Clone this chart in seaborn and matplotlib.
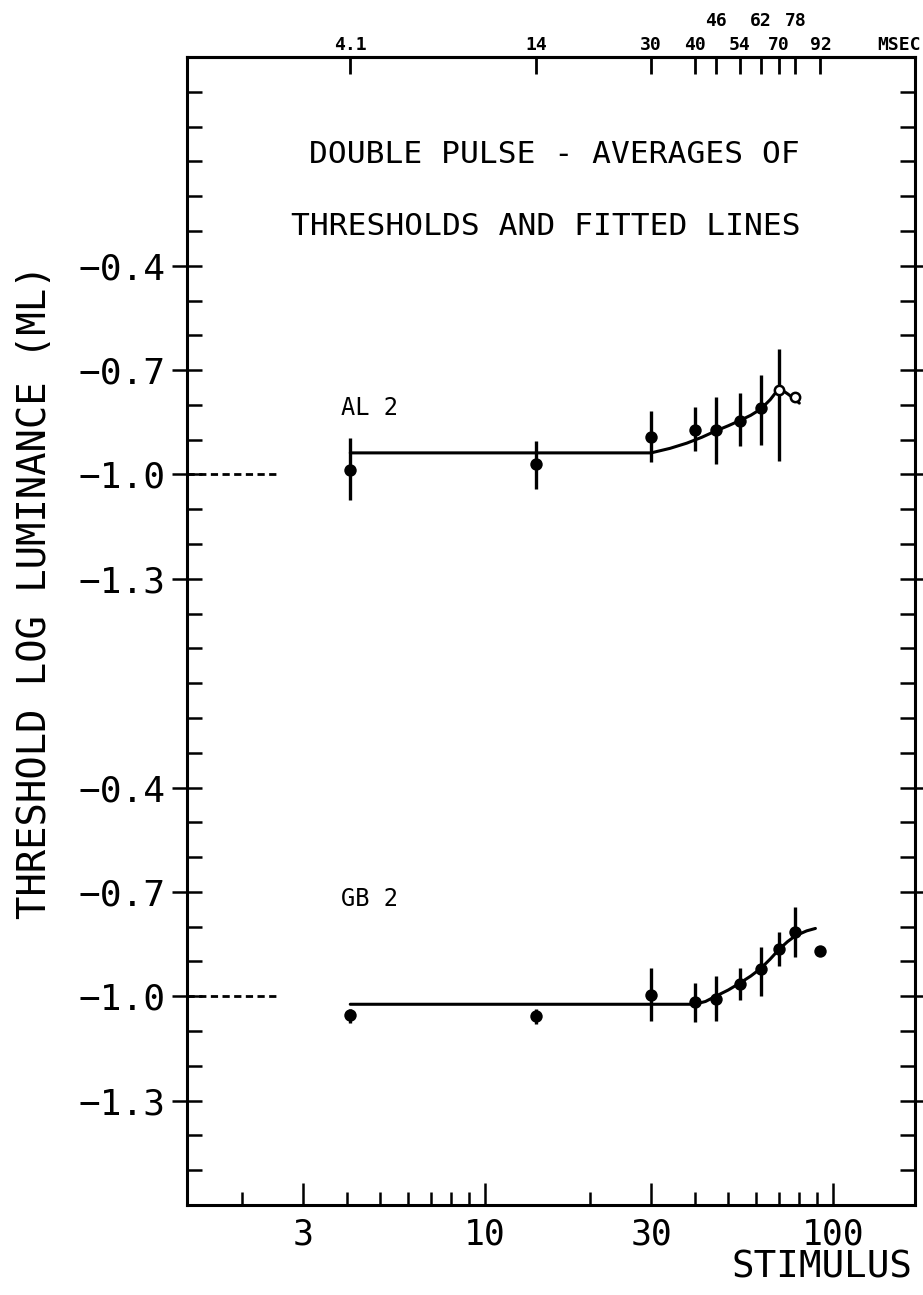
import matplotlib
matplotlib.use("Agg")
import matplotlib.pyplot as plt
import matplotlib.transforms as mtransforms
from matplotlib.ticker import FixedLocator, NullFormatter
import numpy as np
import pandas as pd
import seaborn as sns

# ---- data -------------------------------------------------------------
# stimulus durations (msec), shown along the top edge
msec = [4.1, 14, 30, 40, 46, 54, 62, 70, 78, 92]
msec_low_row = [4.1, 14, 30, 40, 54, 70, 92]
msec_high_row = [46, 62, 78]

# subject AL 2: averaged thresholds and error-bar ends (log mL)
al_x = [4.1, 14, 30, 40, 46, 54, 62, 70, 78]
al_y = [-0.986, -0.971, -0.892, -0.871, -0.873, -0.845, -0.810, -0.757, -0.776]
al_lo = [-1.073, -1.041, -0.965, -0.933, -0.971, -0.919, -0.914, -0.962, -0.776]
al_hi = [-0.895, -0.905, -0.819, -0.807, -0.776, -0.767, -0.715, -0.640, -0.776]
al_open = [False, False, False, False, False, False, False, True, True]
# fitted line for AL 2
al_fit_x = [4.1, 30, 34, 38, 42, 46, 50, 54, 58, 62, 66, 70, 74, 78, 80]
al_fit_y = [-0.938, -0.938, -0.925, -0.910, -0.893, -0.875, -0.860, -0.845,
            -0.830, -0.812, -0.785, -0.752, -0.768, -0.785, -0.795]

# subject GB 2
gb_x = [4.1, 14, 30, 40, 46, 54, 62, 70, 78, 92]
gb_y = [-1.055, -1.057, -0.995, -1.017, -1.007, -0.964, -0.922, -0.865, -0.814, -0.871]
gb_lo = [-1.077, -1.079, -1.071, -1.074, -1.071, -1.010, -0.998, -0.914, -0.886, -0.871]
gb_hi = [-1.036, -1.038, -0.919, -0.962, -0.943, -0.919, -0.857, -0.814, -0.743, -0.871]
# fitted line for GB 2
gb_fit_x = [4.1, 40, 43, 46, 50, 54, 58, 62, 66, 70, 74, 78, 84, 89]
gb_fit_y = [-1.023, -1.023, -1.015, -1.000, -0.982, -0.962, -0.942, -0.920,
            -0.893, -0.865, -0.843, -0.826, -0.812, -0.805]

# the two panels share one frame; the upper one is shifted by this amount
panel_shift = {"AL 2": 1.5, "GB 2": 0.0}
ytick_values = [-0.4, -0.7, -1.0, -1.3]
xtick_major = [3, 10, 30, 100]
xtick_minor = [2, 4, 5, 6, 7, 8, 9, 20, 40, 50, 60, 70, 80, 90]
reference_level = -1.0

# ---- style ------------------------------------------------------------
sns.set_style("ticks")
ink = "black"
plt.rcParams["font.family"] = ["DejaVu Sans Mono", "DejaVu Sans"]
plt.rcParams["axes.linewidth"] = 2.2
plt.rcParams["axes.unicode_minus"] = True
plt.rcParams["text.color"] = ink
plt.rcParams["axes.edgecolor"] = ink
plt.rcParams["xtick.color"] = ink
plt.rcParams["ytick.color"] = ink
plt.rcParams["xtick.labelcolor"] = ink
plt.rcParams["ytick.labelcolor"] = ink

W, H = 923, 1295
fig = plt.figure(figsize=(W / 100, H / 100), dpi=100)
L, R, T, B = 187, 915, 57, 1205
ax = fig.add_axes([L / W, 1 - B / H, (R - L) / W, (B - T) / H])
ax.set_xscale("log")
ax.set_xlim(1.392, 172.0)
ax.set_ylim(-1.6, 1.7)


def draw_panel(name, x, y, lo, hi, fit_x, fit_y, open_flags=None):
    s = panel_shift[name]
    pts = pd.DataFrame({"x": x, "y": np.array(y) + s,
                        "lo": np.array(lo) + s, "hi": np.array(hi) + s})
    fit = pd.DataFrame({"x": fit_x, "y": np.array(fit_y) + s})
    sns.lineplot(data=fit, x="x", y="y", ax=ax, color=ink, lw=2.2,
                 sort=False, estimator=None)
    bars = pts[pts["hi"] > pts["lo"]]
    ax.vlines(bars["x"], bars["lo"], bars["hi"], color=ink, lw=2.4)
    if open_flags is None:
        open_flags = [False] * len(x)
    flags = np.array(open_flags)
    sns.scatterplot(data=pts[~flags], x="x", y="y", ax=ax, color=ink,
                    s=80, edgecolor=ink, linewidth=0, zorder=4)
    if flags.any():
        sns.scatterplot(data=pts[flags], x="x", y="y", ax=ax, color="white",
                        s=45, edgecolor=ink, linewidth=1.8, zorder=4)
    # dashed reference level on the left
    ax.hlines(reference_level + s, 1.392, 2.58, color=ink, lw=2.0,
              linestyle=(0, (2.6, 1.6)))


draw_panel("AL 2", al_x, al_y, al_lo, al_hi, al_fit_x, al_fit_y, al_open)
draw_panel("GB 2", gb_x, gb_y, gb_lo, gb_hi, gb_fit_x, gb_fit_y)

# ---- y axis: same labels repeated for both panels -----------------------
yt, yl = [], []
for name in ["AL 2", "GB 2"]:
    for v in ytick_values:
        yt.append(v + panel_shift[name])
        yl.append(f"{v:.1f}".replace("-", "\u2212"))
ax.set_yticks(yt)
ax.set_yticklabels(yl, fontsize=26)
ax.yaxis.set_minor_locator(FixedLocator(np.round(np.arange(-1.5, 1.65, 0.1), 2)))
ax.tick_params(axis="y", which="major", direction="inout", length=21,
               width=1.8, pad=5, right=True, left=True)
ax.tick_params(axis="y", which="minor", direction="in", length=11,
               width=1.8, right=True, left=True)

# ---- x axis -------------------------------------------------------------
ax.xaxis.set_major_locator(FixedLocator(xtick_major))
ax.xaxis.set_minor_locator(FixedLocator(xtick_minor))
ax.xaxis.set_minor_formatter(NullFormatter())
ax.set_xticklabels([str(v) for v in xtick_major], fontsize=25)
ax.tick_params(axis="x", which="major", direction="in", length=16,
               width=1.8, pad=9, top=False)
ax.tick_params(axis="x", which="minor", direction="in", length=9.5,
               width=1.8, top=False)
ax.set_xlabel("")
ax.set_ylabel("")

# top edge: stimulus durations in msec
top = ax.secondary_xaxis("top")
top.xaxis.set_major_locator(FixedLocator(msec))
top.xaxis.set_minor_locator(FixedLocator([]))
top.set_xticklabels([""] * len(msec))
top.tick_params(axis="x", which="major", direction="in", length=12.5,
                width=2.0, pad=0)
top.spines["top"].set_linewidth(2.2)

blend = mtransforms.blended_transform_factory(ax.transData, fig.transFigure)
for v in msec_low_row:
    ax.text(v, 1 - 45 / H, f"{v:g}", transform=blend, ha="center",
            va="center", fontsize=13, fontweight="bold", color=ink)
for v in msec_high_row:
    ax.text(v, 1 - 21 / H, f"{v:g}", transform=blend, ha="center",
            va="center", fontsize=13, fontweight="bold", color=ink)
fig.text(921 / W, 1 - 45 / H, "MSEC", ha="right", va="center",
         fontsize=13, fontweight="bold", color=ink)

# ---- titles and labels --------------------------------------------------
ax.text(0.504, 0.9155, "DOUBLE PULSE - AVERAGES OF", transform=ax.transAxes,
        ha="center", va="center", fontsize=22.5, color=ink)
ax.text(0.493, 0.852, "THRESHOLDS AND FITTED LINES", transform=ax.transAxes,
        ha="center", va="center", fontsize=22.5, color=ink)
ax.text(3.85, 0.69, "AL 2", ha="left", va="center", fontsize=17, color=ink)
ax.text(3.85, -0.72, "GB 2", ha="left", va="center", fontsize=17, color=ink)

fig.text(35 / W, 1 - 592 / H, "THRESHOLD LOG LUMINANCE (ML)", rotation=90,
         ha="center", va="center", fontsize=28, color=ink)
fig.text(913 / W, 1 - 1268 / H, "STIMULUS", ha="right", va="center",
         fontsize=27, color=ink)

fig.savefig("out.png", dpi=100, facecolor="white")
